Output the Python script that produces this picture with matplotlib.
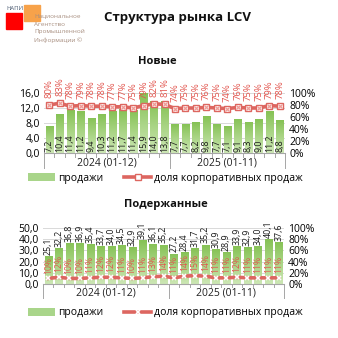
import matplotlib
matplotlib.use("Agg")
import matplotlib.pyplot as plt
import numpy as np
from matplotlib.colors import LinearSegmentedColormap
from matplotlib.lines import Line2D
from matplotlib.patches import Patch
import matplotlib.transforms as mtransforms

plt.rcParams['font.family'] = ['Open Sans', 'DejaVu Sans']

groups = ["2024 (01-12)", "2025 (01-11)"]
group_sizes = [12, 11]

new_sales = [7.2, 10.4, 11.4, 11.2, 9.4, 10.3, 11.2, 11.7, 11.4, 15.9, 14.0, 13.8,
             7.7, 7.7, 8.2, 9.8, 7.7, 7.1, 9.1, 8.3, 9.0, 11.2, 8.8]
new_corp = [80, 83, 78, 79, 78, 78, 77, 77, 75, 79, 82, 81,
            74, 75, 75, 76, 75, 74, 76, 75, 75, 79, 78]

used_sales = [25.1, 32.2, 36.8, 36.9, 35.4, 33.7, 34.0, 34.5, 32.9, 39.1, 36.1, 35.2,
              27.2, 28.4, 31.7, 35.2, 30.9, 28.9, 33.9, 32.9, 34.0, 40.1, 37.6]
used_corp = [10, 12, 10, 10, 11, 12, 12, 11, 10, 11, 13, 14,
             11, 14, 15, 14, 11, 11, 12, 11, 11, 11, 11]

title = "Структура рынка LCV"
sub_new = "Новые"
sub_used = "Подержанные"
leg_sales = "продажи"
leg_corp = "доля корпоративных продаж"

LINE = '#DD6660'
RED_TXT = '#E2554E'
cmap = LinearSegmentedColormap.from_list('g', ['#CDE7B5', '#86C255'])

W = 338
fig = plt.figure(figsize=(3.38, 3.38), dpi=100)


def fmt(v):
    return f"{v:.1f}".replace('.', ',')


def make_panel(rect, sales, corp, ymax, ystep, sub, sub_xy, sales_inside, marker_style, pct_fs, pct_off):
    ax = fig.add_axes(rect)
    n = len(sales)
    x = np.arange(n)
    bars = ax.bar(x, sales, width=0.68, color='#A9D58A', zorder=2)
    grad = np.linspace(0, 1, 100).reshape(-1, 1)
    for b in bars:
        x0 = b.get_x(); w = b.get_width(); h = b.get_height()
        im = ax.imshow(grad, extent=[x0, x0 + w, 0, h], origin='lower', aspect='auto',
                       cmap=cmap, zorder=2.1, vmin=0, vmax=1)
        im.set_clip_path(b)
    ax.set_xlim(-0.5, n - 0.5)
    ax.set_ylim(0, ymax)
    ax.set_yticks(np.arange(0, ymax + 0.01, ystep))
    ax.set_yticklabels([fmt(v) for v in np.arange(0, ymax + 0.01, ystep)], fontsize=7.5)
    ax.yaxis.grid(True, color='#D9D9D9', lw=0.7, zorder=0)
    ax.set_axisbelow(True)
    for s in ['top', 'right', 'left']:
        ax.spines[s].set_visible(False)
    ax.spines['bottom'].set_color('#A6A6A6')
    ax.tick_params(axis='y', length=0, pad=3)
    ax.set_xticks([])
    ax.set_aspect('auto')
    trans = mtransforms.blended_transform_factory(ax.transData, ax.transAxes)
    for i in range(n + 1):
        ax.plot([i - 0.5, i - 0.5], [0, -0.06], transform=trans, color='#A6A6A6', lw=0.7, clip_on=False)
    bounds = np.cumsum([0] + group_sizes)
    for bnd in bounds:
        ax.plot([bnd - 0.5, bnd - 0.5], [0, -0.25], transform=trans, color='#A6A6A6', lw=0.7, clip_on=False)
    for g, a, b in zip(groups, bounds[:-1], bounds[1:]):
        ax.text((a + b - 1) / 2, -0.16, g, transform=trans, ha='center', va='center', fontsize=7.5, color='#222222')
    for xi, v in zip(x, sales):
        ypos = ymax * 0.02 if sales_inside else v + ymax * 0.02
        ax.text(xi, ypos, fmt(v), rotation=90, ha='center', va='bottom', fontsize=6.4,
                color='#1A1A1A', zorder=5)
    ax2 = ax.twinx()
    ax2.set_ylim(0, 100)
    ax2.set_yticks(np.arange(0, 101, 20))
    ax2.set_yticklabels([f"{v}%" for v in range(0, 101, 20)], fontsize=7.5)
    ax2.tick_params(axis='y', length=0, pad=3)
    for s in ['top', 'right', 'left', 'bottom']:
        ax2.spines[s].set_visible(False)
    ax2.plot(x, corp, color=LINE, lw=2.6, zorder=3)
    if marker_style == 'square':
        ax2.plot(x, corp, ls='none', marker='s', ms=5.0, mfc='white', mec=LINE, mew=1.0, zorder=4)
        ax2.plot(x, corp, ls='none', marker='x', ms=3.0, mec='#EE9A95', mew=0.9, zorder=5)
    else:
        ax2.plot(x, corp, ls='none', marker='x', ms=3.5, mec='white', mew=1.2, zorder=4)
    for xi, v in zip(x, corp):
        ax2.annotate(f"{v}%", (xi, v), xytext=(0, pct_off), textcoords='offset points', rotation=90,
                     ha='center', va='bottom', fontsize=pct_fs, color=RED_TXT, zorder=6, annotation_clip=False)
    fig.text(sub_xy[0] / W, 1 - sub_xy[1] / W, sub, ha='center', va='center', fontsize=8, fontweight='bold',
             color='#111111')
    return ax


def legend(y, marker_style):
    yl = 1 - y / W
    h_sales = Patch(facecolor='#A9D58A', edgecolor='none')
    if marker_style == 'square':
        h_line = Line2D([], [], color=LINE, lw=2.6, marker='s', ms=5.0, mfc='white', mec=LINE)
    else:
        h_line = Line2D([], [], color=LINE, lw=2.6, marker='x', ms=3.5, mec='white', mew=1.2)
    fig.legend([h_sales, h_line], [leg_sales, leg_corp], loc='center', bbox_to_anchor=(0.49, yl),
               ncol=2, frameon=False, fontsize=7.5, handlelength=2.6, handletextpad=0.3,
               columnspacing=2.0, borderpad=0)


make_panel([44 / W, 1 - 153 / W, 241 / W, 60 / W], new_sales, new_corp, 16, 4, sub_new, (157, 62), True,
           'square', 6.8, 5)
legend(178, 'square')
make_panel([43 / W, 1 - 284 / W, 241 / W, 56 / W], used_sales, used_corp, 50, 10, sub_used, (166, 205), False,
           'x', 6.2, 3.5)
legend(313, 'x')

fig.text(177 / W, 1 - 17 / W, title, ha='center', va='center', fontsize=9.5, fontweight='bold', color='#111111')
fig.patches.append(plt.Rectangle((6 / W, 1 - 29 / W), 16 / W, 16 / W, transform=fig.transFigure,
                                 color='#FF0000', figure=fig))
fig.patches.append(plt.Rectangle((24 / W, 1 - 21 / W), 16 / W, 16 / W, transform=fig.transFigure,
                                 color='#F7A24A', figure=fig))
fig.text(6 / W, 1 - 8 / W, "НАПИ", fontsize=4.2, color='#4A5A70', va='center', ha='left')
for i, t in enumerate(["Национальное", "Агентство", "Промышленной", "Информации ©"]):
    fig.text(34 / W, 1 - (16 + i * 8) / W, t, fontsize=4.6, color='#A88F80', va='center', ha='left')

fig.savefig("out.png", dpi=100)
